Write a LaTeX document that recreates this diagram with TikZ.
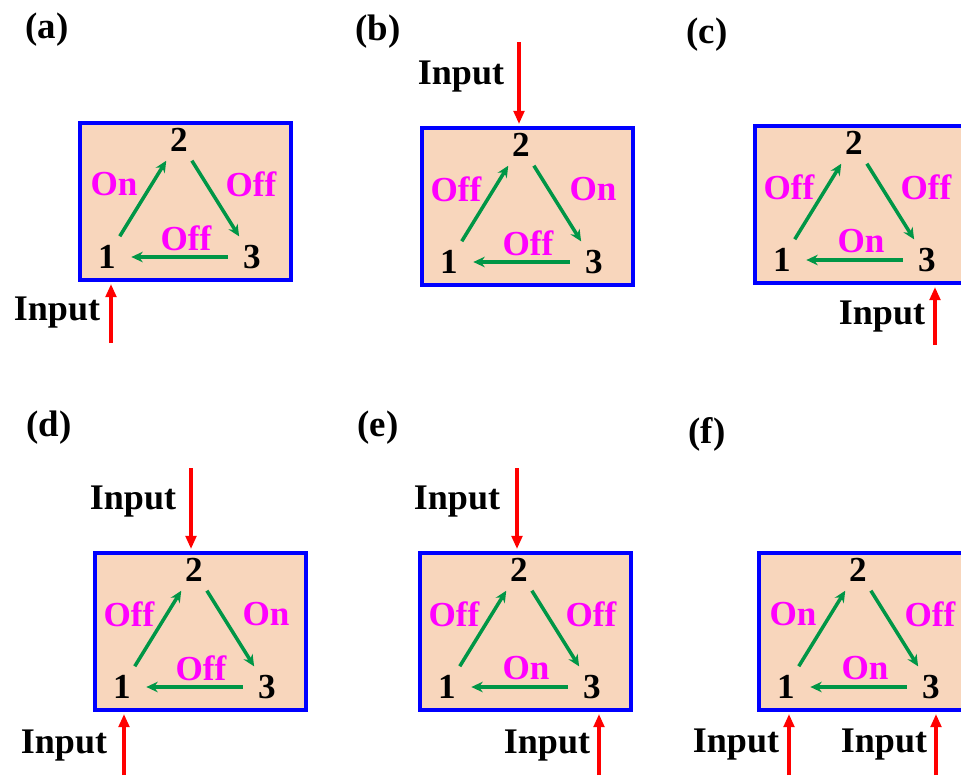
\documentclass[tikz,border=0pt]{standalone}
\usepackage{fontspec}
\setmainfont{Liberation Serif}
\usetikzlibrary{arrows.meta}
\definecolor{boxfill}{RGB}{248,214,188}
\definecolor{boxline}{RGB}{0,0,255}
\definecolor{ringarrow}{RGB}{0,150,70}
\definecolor{stateword}{RGB}{255,0,255}
\definecolor{inputline}{RGB}{255,0,0}

\begin{document}
\begin{tikzpicture}[
    x=0.02cm,
    y=-0.02cm,
    panelbox/.style={draw=boxline, fill=boxfill, line width=2.3pt, inner sep=0pt,
                     minimum width=4.22cm, minimum height=3.14cm, anchor=north west},
    cellnum/.style={circle, inner sep=0pt, minimum size=0.96cm,
                    font=\fontsize{20}{24}\selectfont\bfseries},
    onoff/.style={inner sep=0pt, text=stateword, font=\fontsize{20}{24}\selectfont\bfseries},
    ring/.style={-{Stealth[length=6.5pt, width=6pt]}, ringarrow, line width=2pt},
    feed/.style={-{Triangle[length=7.5pt, width=6pt]}, inputline, line width=2pt, shorten >=1.1pt},
    inword/.style={inner sep=0pt, font=\fontsize{20.5}{24}\selectfont\bfseries},
    tag/.style={inner sep=0pt, font=\fontsize{21}{25}\selectfont\bfseries}
]

\useasboundingbox (0,0) rectangle (961,775);
\clip (0,0) rectangle (961,775);

% Cajas con el anillo 1 -> 2 -> 3 -> 1
\foreach \p/\x/\y/\wl/\wr/\wb in {a/78/121/On/Off/Off, b/420/126/Off/On/Off,
                                   c/753/124/Off/Off/On, d/93/551/Off/On/Off,
                                   e/418/551/Off/Off/On, f/757/551/On/Off/On} {
    \begin{scope}[shift={(\x,\y)}]
        \node[panelbox] (\p-box) at (0,0) {};
        \node[cellnum] (\p-1) at (29,136) {1};
        \node[cellnum] (\p-2) at (101,19) {2};
        \node[cellnum] (\p-3) at (174,136) {3};
        \draw[ring] (\p-1) -- (\p-2);
        \draw[ring] (\p-2) -- (\p-3);
        \draw[ring] (\p-3) -- (\p-1);
        \node[onoff] (\p-left) at (36,63) {\wl};
        \node[onoff] (\p-right) at (173,63) {\wr};
        \node[onoff] (\p-bottom) at (108,117) {\wb};
    \end{scope}
}

% Etiquetas de los paneles
\foreach \p/\x/\y in {a/47/30, b/378/32, c/707/35, d/49/428, e/378/428, f/707/434} {
    \node[tag] (\p-tag) at (\x,\y) {(\p)};
}

% Entradas (flechas rojas)
\foreach \n/\tx/\ty/\ax/\ay/\tgt/\side in {a/57/313/111/343/a/south, b/461/77/519/42/b/north,
                                            c/882/317/935/345/c/south, d/133/502/191/468/d/north,
                                            d2/64/746/124/775/d/south, e/457/502/517/468/e/north,
                                            e2/547/746/599/775/e/south, f/736/745/789/775/f/south,
                                            f2/884/745/936/775/f/south} {
    \node[inword] (\n-in) at (\tx,\ty) {Input};
    \coordinate (\n-tail) at (\ax,\ay);
    \draw[feed] (\n-tail) -- (\n-tail |- \tgt-box.\side);
}

\end{tikzpicture}
\end{document}
